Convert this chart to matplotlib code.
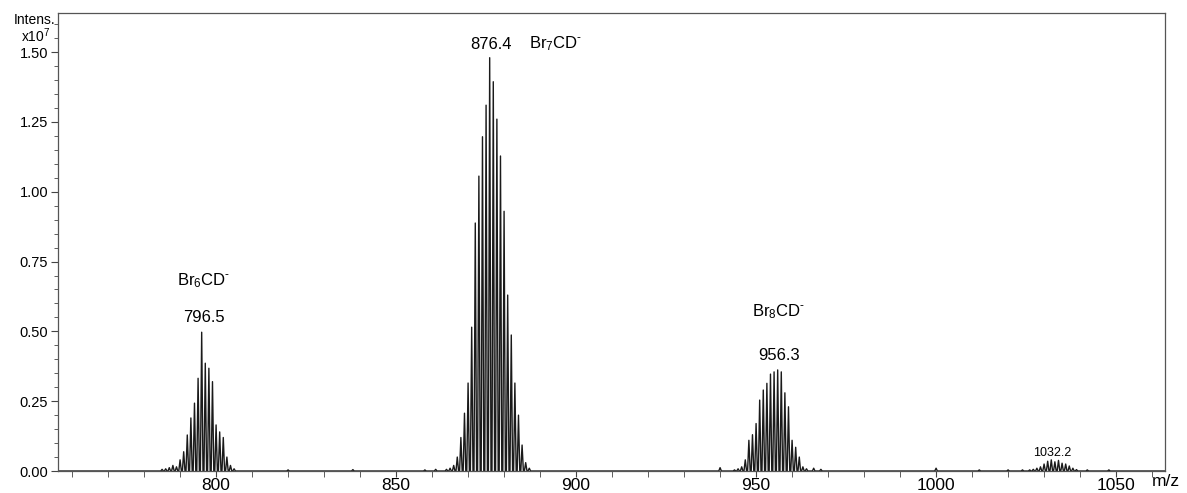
import numpy as np
import matplotlib.pyplot as plt
from matplotlib.ticker import MultipleLocator

plt.rcParams['font.family'] = ['Liberation Sans', 'DejaVu Sans']
plt.rcParams['mathtext.fontset'] = 'custom'
plt.rcParams['mathtext.rm'] = 'Liberation Sans'
plt.rcParams['mathtext.it'] = 'Liberation Sans'
plt.rcParams['mathtext.bf'] = 'Liberation Sans:bold'

# peak list: m/z and intensity (x10^7)
br6_mz = [785, 786, 787, 788, 789, 790, 791, 792, 793, 794, 795, 796, 797,
          798, 799, 800, 801, 802, 803, 804, 805]
br6_int = [0.006, 0.008, 0.012, 0.02, 0.015, 0.04, 0.069, 0.129, 0.19, 0.243,
           0.332, 0.497, 0.386, 0.368, 0.32, 0.165, 0.14, 0.12, 0.05, 0.02, 0.008]

br7_mz = [864, 865, 866, 867, 868, 869, 870, 871, 872, 873, 874, 875, 876,
          877, 878, 879, 880, 881, 882, 883, 884, 885, 886, 887]
br7_int = [0.006, 0.01, 0.02, 0.05, 0.12, 0.207, 0.315, 0.515, 0.888, 1.056,
           1.197, 1.31, 1.48, 1.394, 1.26, 1.128, 0.93, 0.63, 0.487, 0.315,
           0.2, 0.093, 0.03, 0.01]

br8_mz = [940, 944, 945, 946, 947, 948, 949, 950, 951, 952, 953, 954, 955,
          956, 957, 958, 959, 960, 961, 962, 963, 964, 966, 968]
br8_int = [0.012, 0.004, 0.008, 0.015, 0.04, 0.11, 0.13, 0.17, 0.254, 0.29,
           0.314, 0.347, 0.355, 0.362, 0.355, 0.28, 0.23, 0.11, 0.085, 0.05,
           0.015, 0.008, 0.01, 0.006]

br9_mz = [1020, 1024, 1026, 1027, 1028, 1029, 1030, 1031, 1032, 1033, 1034,
          1035, 1036, 1037, 1038, 1039, 1042, 1048]
br9_int = [0.004, 0.004, 0.004, 0.006, 0.01, 0.015, 0.025, 0.035, 0.04, 0.033,
           0.038, 0.028, 0.025, 0.018, 0.01, 0.005, 0.004, 0.004]

noise_mz = [820, 838, 858, 861, 1000, 1012]
noise_int = [0.004, 0.005, 0.004, 0.006, 0.01, 0.004]

mz = np.array(br6_mz + br7_mz + br8_mz + br9_mz + noise_mz, dtype=float)
inten = np.array(br6_int + br7_int + br8_int + br9_int + noise_int)
order = np.argsort(mz)
mz = mz[order]
inten = inten[order]

# profile trace: each peak drawn as a narrow spike
half = 0.36
px = [756.0]
py = [0.0]
for m, h in zip(mz, inten):
    px += [m - half, m, m + half]
    py += [0.0, h, 0.0]
px.append(1064.0)
py.append(0.0)

fig = plt.figure(figsize=(11.87, 4.93), dpi=100)
ax = fig.add_axes([0.0489, 0.0446, 0.9326, 0.929])
ax.plot(px, py, color='#1a1a1a', lw=1.0)

ax.set_xlim(756.1, 1063.6)
ax.set_ylim(0, 1.64)
ax.xaxis.set_major_locator(MultipleLocator(50))
ax.xaxis.set_minor_locator(MultipleLocator(10))
ax.yaxis.set_major_locator(MultipleLocator(0.25))
ax.yaxis.set_minor_locator(MultipleLocator(0.05))
ax.yaxis.set_major_formatter(plt.FuncFormatter(lambda v, p: '%.2f' % v))
ax.tick_params(axis='x', which='both', direction='out', labelsize=12.5,
               length=4, color='#444444', pad=1)
ax.tick_params(axis='y', which='major', direction='out', labelsize=10.5,
               length=5, color='#444444', pad=2)
ax.tick_params(axis='y', which='minor', direction='out', length=3,
               color='#444444')
for s in ax.spines.values():
    s.set_color('#555555')
    s.set_linewidth(0.9)

fig.text(0.0290, 0.960, 'Intens.', ha='center', va='center', fontsize=10)
fig.text(0.0300, 0.928, 'x10$^{7}$', ha='center', va='center', fontsize=10)
fig.text(0.9825, 0.024, 'm/z', ha='center', va='center', fontsize=12.5)

ax.text(796.5, 0.548, '796.5', ha='center', va='center', fontsize=12)
ax.text(796.5, 0.68, 'Br$_6$CD$^{\u2010}$', ha='center', va='center', fontsize=12)
ax.text(876.4, 1.529, '876.4', ha='center', va='center', fontsize=12)
ax.text(894.4, 1.529, 'Br$_7$CD$^{\u2010}$', ha='center', va='center', fontsize=12)
ax.text(956.3, 0.415, '956.3', ha='center', va='center', fontsize=12)
ax.text(956.3, 0.569, 'Br$_8$CD$^{\u2010}$', ha='center', va='center', fontsize=12)
ax.text(1032.2, 0.064, '1032.2', ha='center', va='center', fontsize=9)

fig.savefig('out.png', dpi=100)
